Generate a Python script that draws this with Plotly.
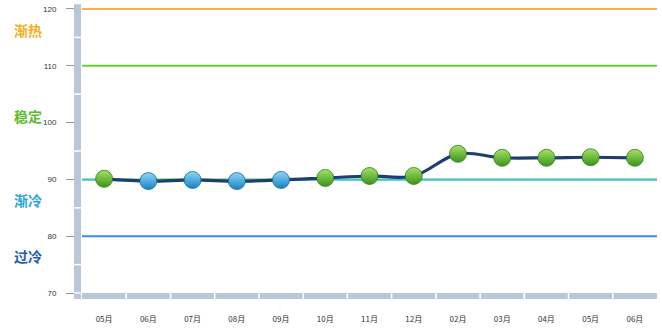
import plotly.graph_objects as go

months = ["05月", "06月", "07月", "08月", "09月", "10月", "11月", "12月", "02月", "03月", "04月", "05月", "06月"]
values = [90.1, 89.7, 89.9, 89.7, 89.9, 90.25, 90.6, 90.6, 94.5, 93.8, 93.8, 93.9, 93.8]
y_ticks = [70, 80, 90, 100, 110, 120]
zones = [("渐热", 116.3, "#f2b01e"), ("稳定", 101.2, "#5dbb2c"), ("渐冷", 86.4, "#2ea3dc"), ("过冷", 76.5, "#1f5fb0")]
ref_lines = [(120, "#f5b24e"), (110, "#69cc38"), (80, "#3c8fe2")]

FONT = "Noto Sans CJK SC"
xs = list(range(len(months)))
W = 575.0

fig = go.Figure()

fig.add_trace(go.Scatter(x=xs, y=values, mode="lines",
                         line=dict(color="#1e3d72", width=3.2, shape="spline", smoothing=1.0),
                         hoverinfo="skip", showlegend=False))
greens = [i for i, v in enumerate(values) if v >= 90]
blues = [i for i, v in enumerate(values) if v < 90]
fig.add_trace(go.Scatter(x=[xs[i] for i in greens], y=[values[i] for i in greens], mode="markers",
                         marker=dict(size=17, color="#a6e06a", line=dict(color="#2f7d12", width=0.8),
                                     gradient=dict(type="vertical", color="#3a9416")),
                         showlegend=False))
fig.add_trace(go.Scatter(x=[xs[i] for i in blues], y=[values[i] for i in blues], mode="markers",
                         marker=dict(size=17, color="#8fd6f6", line=dict(color="#15679c", width=0.8),
                                     gradient=dict(type="vertical", color="#1682c4")),
                         showlegend=False))

shapes = []
for v, c in ref_lines:
    shapes.append(dict(type="line", xref="paper", yref="y", x0=0, x1=1, y0=v, y1=v,
                       line=dict(color=c, width=2), layer="below"))
shapes.append(dict(type="line", xref="paper", yref="y", x0=0, x1=1, y0=89.93, y1=89.93,
                   line=dict(color="#38bfe0", width=2), layer="below"))
shapes.append(dict(type="line", xref="paper", yref="y", x0=0, x1=1, y0=90.15, y1=90.15,
                   line=dict(color="#a8e488", width=1), layer="below"))

band = "#b9c8d9"
shapes.append(dict(type="rect", xref="paper", yref="paper", x0=-8 / W, x1=-1 / W, y0=-6 / 284, y1=1.01,
                   fillcolor=band, line=dict(width=0), layer="above"))
for v in [115, 105, 95, 85, 75]:
    shapes.append(dict(type="line", xref="paper", yref="y", x0=-8 / W, x1=-1 / W, y0=v, y1=v,
                       line=dict(color="white", width=1.5), layer="above"))
shapes.append(dict(type="line", xref="paper", yref="paper", x0=-8 / W, x1=-1 / W, y0=0, y1=0,
                   line=dict(color="white", width=1.5), layer="above"))
shapes.append(dict(type="rect", xref="paper", yref="paper", x0=0, x1=1, y0=-6 / 284, y1=0,
                   fillcolor=band, line=dict(width=0), layer="above"))
for i in range(1, len(months)):
    shapes.append(dict(type="line", xref="x", yref="paper", x0=i - 0.5, x1=i - 0.5, y0=-6 / 284, y1=0,
                       line=dict(color="white", width=1.5), layer="above"))

annotations = []
for name, yv, c in zones:
    annotations.append(dict(text="<b>" + name + "</b>", xref="paper", yref="y", x=-70 / W, y=yv,
                            xanchor="left", yanchor="middle", showarrow=False,
                            font=dict(family=FONT, size=14, color=c)))

fig.update_layout(
    width=662, height=329,
    margin=dict(l=82, r=5, t=7, b=36),
    plot_bgcolor="white", paper_bgcolor="white",
    shapes=shapes, annotations=annotations,
    xaxis=dict(range=[-0.5, 12.5], tickvals=xs, ticktext=months, showgrid=False, zeroline=False,
               showline=False, ticks="", ticklabelstandoff=20,
               tickfont=dict(family=FONT, size=8, color="#333")),
    yaxis=dict(range=[70, 120.35], tickvals=y_ticks, showgrid=False, zeroline=False, showline=False,
               ticks="outside", ticklen=15, tickcolor="#999", tickwidth=1, ticklabelstandoff=8,
               tickfont=dict(family="Liberation Sans", size=8, color="#333")),
)

fig.write_html("out.html")
